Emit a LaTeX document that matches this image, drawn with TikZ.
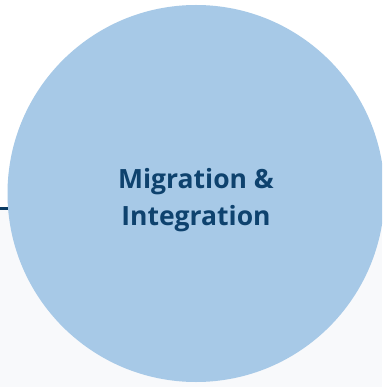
\documentclass[tikz,border=0pt]{standalone}
\usepackage{fontspec}
\setmainfont{Open Sans}
\definecolor{bubble}{RGB}{167,201,231}
\definecolor{navy}{RGB}{14,66,110}
\definecolor{linenavy}{RGB}{10,58,98}
\definecolor{paper}{RGB}{248,249,251}
\begin{document}
\begin{tikzpicture}[x=1pt,y=-1pt,
  bubblestyle/.style={circle, fill=bubble, minimum size=377pt, inner sep=0pt},
  labelstyle/.style={text=navy, font=\fontsize{26.5}{37}\selectfont\bfseries, align=center, inner sep=0pt},
  rulestyle/.style={draw=linenavy, line width=3pt}]
\clip (0,0) rectangle (382,387);
\fill[white] (0,0) rectangle (382,208.7);
\fill[paper] (0,208.7) rectangle (382,387);
\coordinate (ls) at (0,208.7);
\coordinate (le) at (30,208.7);
\draw[rulestyle] (ls) -- (le);
\node[bubblestyle] (mig) at (196,193.5) {};
\node[labelstyle] (migtext) at ([yshift=-6.5pt]mig.center) {Migration \&\\Integration};
\end{tikzpicture}
\end{document}
